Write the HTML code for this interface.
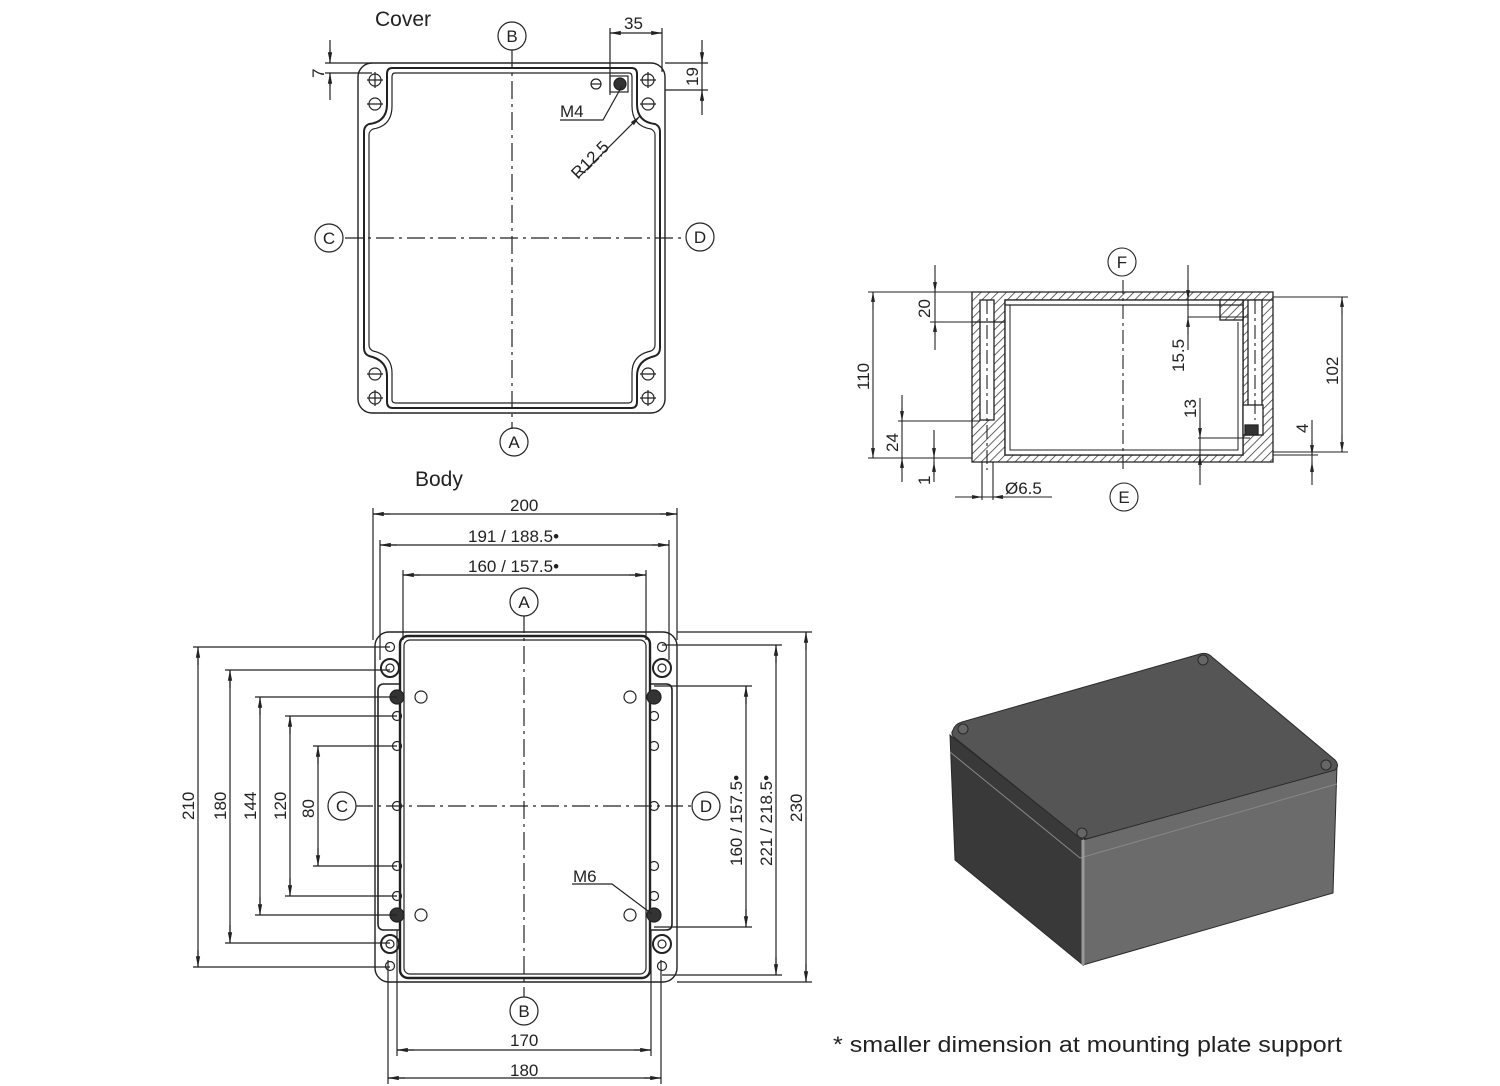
<!DOCTYPE html>
<html><head><meta charset="utf-8"><style>
html,body{margin:0;padding:0;background:#fff}
svg{display:block}
text{font-family:"Liberation Sans",sans-serif;fill:#222}
.d{font-size:17px}
.c{font-size:17px;text-anchor:middle}
</style></head><body>
<svg width="1500" height="1086" viewBox="0 0 1500 1086" xmlns="http://www.w3.org/2000/svg">
<defs>
<pattern id="h" width="6" height="6" patternUnits="userSpaceOnUse" patternTransform="rotate(45)">
<rect width="6" height="6" fill="#fff"/><line x1="0" y1="0" x2="0" y2="6" stroke="#333" stroke-width="1.5"/></pattern>
<marker id="a" viewBox="0 0 10 10" refX="10" refY="5" markerWidth="9" markerHeight="9" orient="auto-start-reverse"><path d="M0,3 L10,5 L0,7z" fill="#222"/></marker>
</defs>
<g stroke="#222" fill="none" stroke-width="1.2">
<!-- ===== COVER ===== -->
<rect x="358" y="63" width="307" height="350" rx="14" stroke-width="1.4"/>
<path d="M392,68 H632 Q637,68 637,74 V104 Q637,122 655,124 Q660,126 660,132 V348 Q660,354 655,356 Q637,360 637,376 V402 Q637,408 631,408 H393 Q387,408 387,402 V376 Q387,360 369,356 Q364,354 364,348 V132 Q364,126 369,124 Q387,122 387,104 V74 Q387,68 392,68Z" stroke-width="2"/>
<path d="M395,73 H629 Q632,73 632,77 V106 Q632,126 651,129 Q655,131 655,135 V345 Q655,349 651,351 Q632,355 632,373 V400 Q632,403 628,403 H396 Q392,403 392,400 V373 Q392,355 373,351 Q369,349 369,345 V135 Q369,131 373,129 Q392,126 392,106 V77 Q392,73 395,73Z"/>
<g stroke-width="1.2">
<circle cx="375" cy="80" r="6"/><circle cx="375" cy="104" r="6"/><circle cx="648" cy="80" r="6"/><circle cx="648" cy="104" r="6"/>
<circle cx="375" cy="374" r="6"/><circle cx="375" cy="398" r="6"/><circle cx="648" cy="374" r="6"/><circle cx="648" cy="398" r="6"/>
<path d="M367,80h16M375,72v16M367,104h16M640,80h16M648,72v16M640,104h16M367,374h16M367,398h16M375,390v16M640,374h16M640,398h16M648,390v16"/>
<circle cx="596" cy="84" r="5"/><path d="M591,84h10"/>
<circle cx="620" cy="84" r="6" fill="#333"/><rect x="610" y="76" width="18" height="16"/>
</g>
<path d="M512,50 V430 M345,238 H685" stroke-dasharray="18 5 3 5"/>
<circle cx="512" cy="36" r="14" fill="#fff"/><circle cx="514" cy="442" r="14" fill="#fff"/><circle cx="329" cy="238" r="14" fill="#fff"/><circle cx="700" cy="237" r="14" fill="#fff"/>
<!-- cover dims -->
<path d="M325,63 H372 M325,73 H372 M330,40 V63 M330,73 V100" />
<path d="M330,50 V63" marker-end="url(#a)"/><path d="M330,86 V73" marker-end="url(#a)"/>
<path d="M610,28 V95 M662,28 V72 M610,33 H662"/>
<path d="M620,33 H610" marker-end="url(#a)"/><path d="M652,33 H662" marker-end="url(#a)"/>
<path d="M665,63 H708 M665,90 H708 M702,40 V115"/>
<path d="M702,52 V63" marker-end="url(#a)"/><path d="M702,102 V90" marker-end="url(#a)"/>
<path d="M560,120 H603 L622,86"/>
<path d="M578,178 L640,116" marker-end="url(#a)"/>
</g>
<g stroke="none">
<text x="375" y="26" style="font-size:21px">Cover</text>
<text x="624" y="29" class="d">35</text>
<text class="d" transform="translate(324,78) rotate(-90)">7</text>
<text class="d" transform="translate(698,86) rotate(-90)">19</text>
<text x="560" y="117" class="d">M4</text>
<text class="d" transform="translate(578,180) rotate(-45)">R12.5</text>
<text x="512" y="42" class="c">B</text><text x="514" y="448" class="c">A</text><text x="329" y="244" class="c">C</text><text x="700" y="243" class="c">D</text>
</g>

<!-- ===== SECTION ===== -->
<g stroke="#222" stroke-width="1.3">
<path d="M972,292 H1273 V300 H1005 V455 H1243 V300 H1273 V462 H972Z" fill="url(#h)"/>
<rect x="1005" y="300" width="238" height="155" fill="#fff"/>
<rect x="980" y="300" width="14" height="120" fill="#fff"/>
<rect x="1220" y="300" width="23" height="20" fill="url(#h)"/>
<rect x="1248" y="300" width="14" height="110" fill="#fff"/>
<rect x="1243" y="405" width="20" height="30" fill="#fff"/>
<rect x="1245" y="425" width="13" height="10" fill="#333"/>
<path d="M972,322 H1005 M1005,305 H1243" fill="none"/>
<path d="M1010,305 V450 H1238 V322" fill="none" stroke-width="1"/>
</g>
<g stroke="#222" fill="none" stroke-width="1.1">
<path d="M1123,280 V470 M987,300 V470 M1255,300 V420" stroke-dasharray="14 4 3 4"/>
<circle cx="1122" cy="262" r="14" fill="#fff"/><circle cx="1124" cy="497" r="14" fill="#fff"/>
<path d="M868,292 H972 M868,458 H972 M873,292 V458"/>
<path d="M873,310 V292" marker-end="url(#a)"/><path d="M873,440 V458" marker-end="url(#a)"/>
<path d="M930,322 H1005 M935,265 V350"/>
<path d="M935,280 V292" marker-end="url(#a)"/><path d="M935,335 V322" marker-end="url(#a)"/>
<path d="M898,421 H980 M902,395 V482"/>
<path d="M902,408 V421" marker-end="url(#a)"/><path d="M902,470 V458" marker-end="url(#a)"/>
<path d="M930,458 H972 M934,430 V482"/>
<path d="M934,445 V458" marker-end="url(#a)"/><path d="M934,475 V462" marker-end="url(#a)"/>
<path d="M982,462 V500 M993,462 V500 M955,497 H1052"/>
<path d="M970,497 H982" marker-end="url(#a)"/><path d="M1005,497 H993" marker-end="url(#a)"/>
<path d="M1188,265 V350 M1188,317 H1248"/>
<path d="M1188,280 V300" marker-end="url(#a)"/><path d="M1188,335 V317" marker-end="url(#a)"/>
<path d="M1200,398 V485 M1198,438 H1250"/>
<path d="M1200,420 V438" marker-end="url(#a)"/><path d="M1200,470 V455" marker-end="url(#a)"/>
<path d="M1273,297 H1348 M1273,452 H1348 M1342,297 V452"/>
<path d="M1342,315 V297" marker-end="url(#a)"/><path d="M1342,435 V452" marker-end="url(#a)"/>
<path d="M1273,455 H1318 M1312,420 V485"/>
<path d="M1312,440 V455" marker-end="url(#a)"/><path d="M1312,475 V462" marker-end="url(#a)"/>
</g>
<g stroke="none">
<text class="d" transform="translate(869,390) rotate(-90)">110</text>
<text class="d" transform="translate(930,318) rotate(-90)">20</text>
<text class="d" transform="translate(898,452) rotate(-90)">24</text>
<text class="d" transform="translate(930,485) rotate(-90)">1</text>
<text class="d" transform="translate(1184,372) rotate(-90)">15.5</text>
<text class="d" transform="translate(1196,418) rotate(-90)">13</text>
<text class="d" transform="translate(1338,385) rotate(-90)">102</text>
<text class="d" transform="translate(1308,433) rotate(-90)">4</text>
<text x="1005" y="494" class="d">Ø6.5</text>
<text x="1122" y="268" class="c">F</text><text x="1124" y="503" class="c">E</text>
</g>

<!-- ===== BODY ===== -->
<g stroke="#222" fill="none" stroke-width="1.2">
<rect x="375" y="632" width="302" height="350" rx="14" stroke-width="1.4"/>
<rect x="400" y="636" width="250" height="342" rx="8" stroke-width="2.4"/>
<rect x="404" y="640" width="242" height="334" rx="6"/>
<path d="M400,684 H384 Q378,684 378,690 V924 Q378,930 384,930 H400 M650,684 H666 Q672,684 672,690 V924 Q672,930 666,930 H650" stroke-width="1.6"/>
<g>
<circle cx="390" cy="668" r="9" stroke-width="2"/><circle cx="390" cy="668" r="4"/>
<circle cx="390" cy="944" r="9" stroke-width="2"/><circle cx="390" cy="944" r="4"/>
<circle cx="662" cy="668" r="9" stroke-width="2"/><circle cx="662" cy="668" r="4"/>
<circle cx="662" cy="944" r="9" stroke-width="2"/><circle cx="662" cy="944" r="4"/>
<circle cx="390" cy="647" r="4.5"/><circle cx="390" cy="966" r="4.5"/><circle cx="662" cy="647" r="4.5"/><circle cx="662" cy="966" r="4.5"/>
<circle cx="397" cy="697" r="7" fill="#333"/><circle cx="397" cy="915" r="7" fill="#333"/><circle cx="654" cy="697" r="7" fill="#333"/><circle cx="654" cy="915" r="7" fill="#333"/>
<circle cx="397" cy="716" r="4.5"/><circle cx="397" cy="746" r="4.5"/><circle cx="397" cy="806" r="4.5"/><circle cx="397" cy="866" r="4.5"/><circle cx="397" cy="896" r="4.5"/>
<circle cx="654" cy="716" r="4.5"/><circle cx="654" cy="746" r="4.5"/><circle cx="654" cy="806" r="4.5"/><circle cx="654" cy="866" r="4.5"/><circle cx="654" cy="896" r="4.5"/>
<circle cx="421" cy="697" r="6"/><circle cx="421" cy="915" r="6"/><circle cx="630" cy="697" r="6"/><circle cx="630" cy="915" r="6"/>
</g>
<path d="M524,615 V1000 M355,806 H692" stroke-dasharray="18 5 3 5"/>
<circle cx="524" cy="602" r="14" fill="#fff"/><circle cx="524" cy="1011" r="14" fill="#fff"/><circle cx="342" cy="806" r="14" fill="#fff"/><circle cx="706" cy="806" r="14" fill="#fff"/>
<!-- top dims -->
<path d="M373,508 V640 M677,508 V640 M373,514 H677"/>
<path d="M390,514 H373" marker-end="url(#a)"/><path d="M660,514 H677" marker-end="url(#a)"/>
<path d="M380,540 V660 M669,540 V660 M380,545 H669"/>
<path d="M397,545 H380" marker-end="url(#a)"/><path d="M652,545 H669" marker-end="url(#a)"/>
<path d="M403,570 V640 M646,570 V640 M403,575 H646"/>
<path d="M420,575 H403" marker-end="url(#a)"/><path d="M629,575 H646" marker-end="url(#a)"/>
<!-- left dims -->
<path d="M193,647 H390 M193,967 H390 M198,647 V967"/>
<path d="M198,665 V647" marker-end="url(#a)"/><path d="M198,950 V967" marker-end="url(#a)"/>
<path d="M225,670 H390 M225,943 H390 M230,670 V943"/>
<path d="M230,688 V670" marker-end="url(#a)"/><path d="M230,925 V943" marker-end="url(#a)"/>
<path d="M255,697 H397 M255,915 H397 M260,697 V915"/>
<path d="M260,715 V697" marker-end="url(#a)"/><path d="M260,897 V915" marker-end="url(#a)"/>
<path d="M285,716 H397 M285,896 H397 M290,716 V896"/>
<path d="M290,734 V716" marker-end="url(#a)"/><path d="M290,878 V896" marker-end="url(#a)"/>
<path d="M313,746 H397 M313,866 H397 M318,746 V866"/>
<path d="M318,764 V746" marker-end="url(#a)"/><path d="M318,848 V866" marker-end="url(#a)"/>
<!-- right dims -->
<path d="M654,686 H752 M654,927 H752 M746,686 V927"/>
<path d="M746,704 V686" marker-end="url(#a)"/><path d="M746,909 V927" marker-end="url(#a)"/>
<path d="M662,645 H782 M662,975 H782 M776,645 V975"/>
<path d="M776,663 V645" marker-end="url(#a)"/><path d="M776,957 V975" marker-end="url(#a)"/>
<path d="M677,632 H812 M677,982 H812 M806,632 V982"/>
<path d="M806,650 V632" marker-end="url(#a)"/><path d="M806,964 V982" marker-end="url(#a)"/>
<!-- bottom dims -->
<path d="M397,930 V1056 M651,930 V1056 M397,1050 H651"/>
<path d="M414,1050 H397" marker-end="url(#a)"/><path d="M634,1050 H651" marker-end="url(#a)"/>
<path d="M388,960 V1084 M661,960 V1084 M388,1078 H661"/>
<path d="M405,1078 H388" marker-end="url(#a)"/><path d="M644,1078 H661" marker-end="url(#a)"/>
<path d="M572,884 H612 L652,914"/>
</g>
<g stroke="none">
<text x="415" y="486" style="font-size:21px">Body</text>
<text x="510" y="511" class="d">200</text>
<text x="468" y="542" class="d">191 / 188.5•</text>
<text x="468" y="572" class="d">160 / 157.5•</text>
<text class="d" transform="translate(194,820) rotate(-90)">210</text>
<text class="d" transform="translate(226,820) rotate(-90)">180</text>
<text class="d" transform="translate(256,820) rotate(-90)">144</text>
<text class="d" transform="translate(286,820) rotate(-90)">120</text>
<text class="d" transform="translate(314,818) rotate(-90)">80</text>
<text class="d" transform="translate(742,866) rotate(-90)">160 / 157.5•</text>
<text class="d" transform="translate(772,866) rotate(-90)">221 / 218.5•</text>
<text class="d" transform="translate(802,822) rotate(-90)">230</text>
<text x="510" y="1046" class="d">170</text>
<text x="510" y="1076" class="d">180</text>
<text x="573" y="882" class="d">M6</text>
<text x="524" y="608" class="c">A</text><text x="524" y="1017" class="c">B</text><text x="342" y="812" class="c">C</text><text x="706" y="812" class="c">D</text>
</g>

<!-- ===== 3D BOX ===== -->
<g stroke="#2a2a2a" stroke-width="1">
<path d="M950,735 L1083,840 L1083,965 L955,860 Z" fill="#393939"/>
<path d="M1083,840 L1337,765 L1333,893 L1083,965 Z" fill="#6b6b6b"/>
<path d="M953,730 Q955,724 962,722 L1200,654 Q1207,652 1212,657 L1335,760 Q1340,766 1335,770 L1090,838 Q1082,840 1076,835 L955,738 Q950,734 953,730Z" fill="#555"/>
<path d="M950,752 L1080,858 L1337,784" fill="none" stroke="#888"/>
<path d="M1083,840 V965" stroke="#999" stroke-width="3"/>
<circle cx="963" cy="729" r="5" fill="#666"/><circle cx="1203" cy="660" r="5" fill="#666"/><circle cx="1326" cy="765" r="5" fill="#666"/><circle cx="1082" cy="833" r="5" fill="#666"/>
</g>
<text x="833" y="1052" style="font-size:22px" textLength="509" lengthAdjust="spacingAndGlyphs">* smaller dimension at mounting plate support</text>
</svg>
</body></html>
